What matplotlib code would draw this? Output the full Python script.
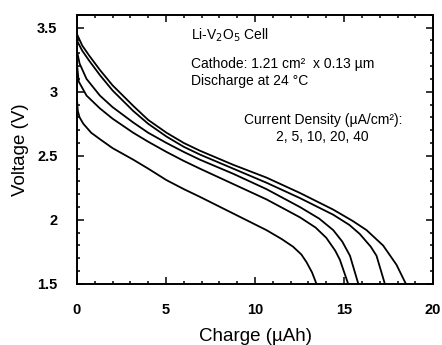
import numpy as np
import matplotlib
matplotlib.use("Agg")
import matplotlib.pyplot as plt
from matplotlib.ticker import MultipleLocator

plt.rcParams["font.family"] = ["Liberation Sans", "DejaVu Sans"]

# discharge curves, one per current density (uA/cm2)
charge_2 = [0, 0.3, 0.7, 1.29, 2.0, 3.16, 4.0, 5.03, 6.0, 6.90, 8.77, 10.64, 12.52, 14.39, 15.5, 16.26, 17.19, 17.94, 18.47]
volt_2 = [3.45, 3.36, 3.28, 3.17, 3.05, 2.89, 2.78, 2.68, 2.60, 2.54, 2.43, 2.33, 2.21, 2.08, 1.99, 1.92, 1.80, 1.65, 1.5]

charge_5 = [0, 0.3, 0.7, 1.29, 2.0, 3.16, 4.0, 5.03, 6.0, 6.90, 8.77, 10.64, 12.52, 14.39, 15.3, 15.88, 16.5, 16.82, 17.29]
volt_5 = [3.40, 3.32, 3.24, 3.13, 3.01, 2.85, 2.75, 2.65, 2.57, 2.51, 2.40, 2.29, 2.17, 2.04, 1.96, 1.89, 1.79, 1.72, 1.5]

charge_10 = [0, 0.15, 0.54, 1.29, 2.0, 3.16, 4.0, 5.03, 6.0, 6.90, 8.77, 10.64, 12.52, 13.6, 14.39, 14.9, 15.33, 15.8]
volt_10 = [3.32, 3.22, 3.10, 2.97, 2.88, 2.76, 2.68, 2.60, 2.53, 2.47, 2.36, 2.24, 2.10, 2.01, 1.92, 1.83, 1.72, 1.5]

charge_20 = [0, 0.1, 0.54, 1.29, 2.0, 3.16, 4.0, 5.03, 6.0, 6.90, 8.77, 10.64, 12.52, 13.4, 14.0, 14.5, 14.76, 15.23]
volt_20 = [3.22, 3.08, 2.97, 2.87, 2.79, 2.68, 2.61, 2.53, 2.46, 2.40, 2.28, 2.16, 2.02, 1.94, 1.86, 1.76, 1.69, 1.5]

charge_40 = [0, 0.05, 0.15, 0.36, 0.8, 1.29, 2.0, 3.16, 4.0, 5.03, 6.0, 6.90, 8.77, 10.64, 11.5, 12.14, 12.6, 12.89, 13.2, 13.45]
volt_40 = [2.95, 2.85, 2.80, 2.75, 2.68, 2.63, 2.56, 2.47, 2.40, 2.31, 2.24, 2.18, 2.05, 1.92, 1.85, 1.79, 1.73, 1.67, 1.59, 1.5]

curves = [
    (charge_2, volt_2),
    (charge_5, volt_5),
    (charge_10, volt_10),
    (charge_20, volt_20),
    (charge_40, volt_40),
]

fig = plt.figure(figsize=(4.42, 3.45), dpi=100)
ax = fig.add_axes([0.174, 0.177, 0.806, 0.78])

for q, v in curves:
    ax.plot(q, v, color="black", lw=1.3)

ax.set_xlim(0, 20)
ax.set_ylim(1.5, 3.6)
ax.xaxis.set_major_locator(MultipleLocator(5))
ax.xaxis.set_minor_locator(MultipleLocator(1))
ax.yaxis.set_minor_locator(MultipleLocator(0.1))
ax.set_yticks([1.5, 2, 2.5, 3, 3.5])
ax.set_yticklabels(["1.5", "2", "2.5", "3", "3.5"])

ax.tick_params(which="both", direction="in", top=True, right=True, width=1.1)
ax.tick_params(which="major", length=5, labelsize=10.5)
ax.tick_params(axis="x", which="major", pad=14)
ax.tick_params(axis="y", which="major", pad=14)
ax.tick_params(which="minor", length=2.5)
for lab in ax.get_xticklabels() + ax.get_yticklabels():
    lab.set_fontweight("bold")
for s in ax.spines.values():
    s.set_linewidth(1.4)

ax.set_xlabel("Charge (\u00b5Ah)", fontsize=13.5, labelpad=8)
ax.set_ylabel("Voltage (V)", fontsize=13.5, labelpad=6)

txt = dict(fontsize=10, va="center")
ax.text(6.4, 3.44, "Li-V$_2$O$_5$ Cell", **txt)
ax.text(6.4, 3.215, "Cathode: 1.21 cm\u00b2  x 0.13 \u00b5m", **txt)
ax.text(6.4, 3.085, "Discharge at 24 \u00b0C", **txt)
ax.text(13.8, 2.78, "Current Density (\u00b5A/cm\u00b2):", ha="center", **txt)
ax.text(13.8, 2.65, "2, 5, 10, 20, 40", ha="center", **txt)

fig.savefig("out.png", dpi=100)
